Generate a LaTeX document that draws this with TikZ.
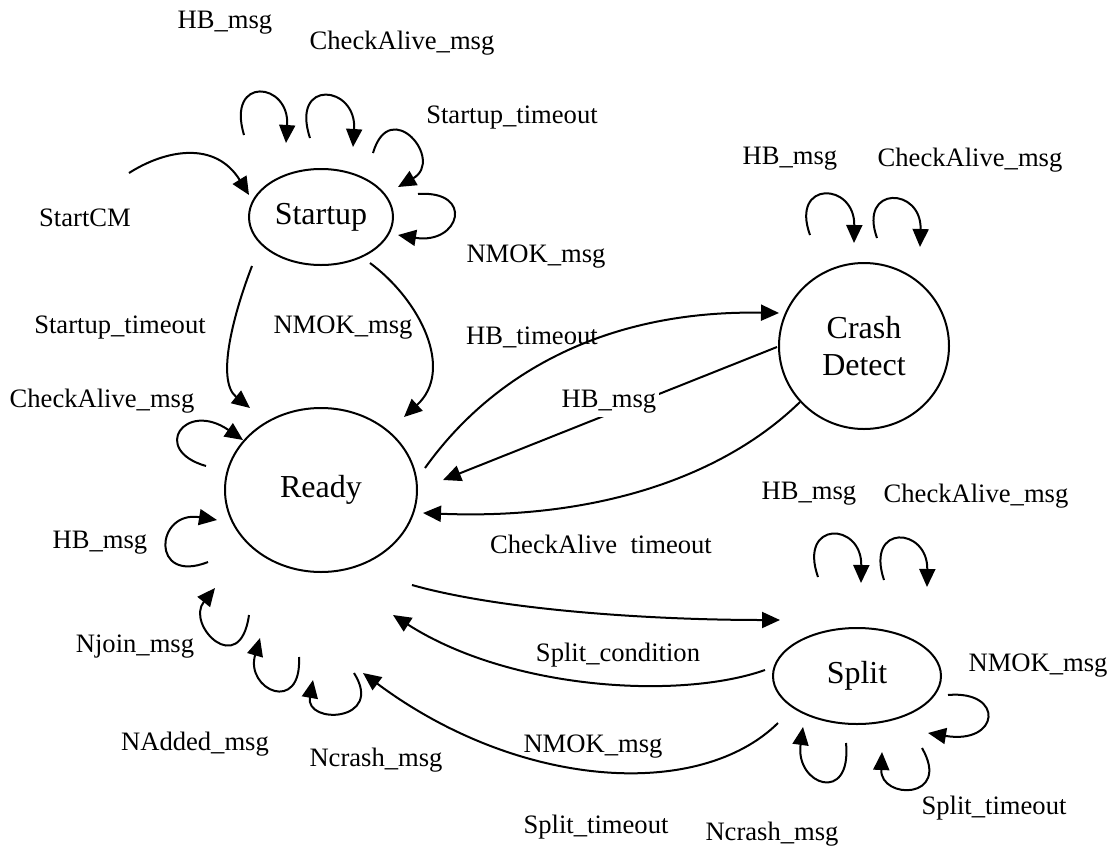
\documentclass[tikz,border=0pt]{standalone}
\usepackage{fontspec}
\setmainfont{Liberation Serif}
\usetikzlibrary{arrows.meta,shapes.geometric,calc}

\begin{document}
\begin{tikzpicture}[x=0.5pt, y=-0.5pt, state/.style={ellipse,draw,line width=1pt,inner sep=0pt,align=center,font=\fontsize{16}{18.5}\selectfont}, lbl/.style={inner sep=0pt,font=\fontsize{13.3}{16}\selectfont}, arr/.style={line width=1pt,-{Triangle[length=9pt,width=8pt]}}]
\useasboundingbox (0,0) rectangle (1115,847);
% states
\node[state,minimum width=72pt,minimum height=48pt] (st) at (321,217) {Startup};
\node[state,minimum width=96pt,minimum height=82pt] (rd) at (321,490) {Ready};
\node[state,minimum width=85pt,minimum height=83pt] (cr) at (864,346) {Crash\\Detect};
\node[state,minimum width=84pt,minimum height=48pt] (sp) at (857,676) {Split};
% entry
\coordinate (go) at (129,173);
\draw[arr] (go) .. controls (165,150) and (215,140) .. ($(st)+(-72,-22)$);
\node[lbl] (l-go) at (85,218) {StartCM};
% Startup self loops
\draw[arr] ($(st)+(-77,-82)$) .. controls (226,75) and (290,82) .. ($(st)+(-35,-74)$);
\draw[arr] ($(st)+(-11,-79)$) .. controls (290,78) and (357,85) .. ($(st)+(32,-70)$);
\draw[arr] ($(st)+(52,-64)$) .. controls (390,95) and (445,160) .. ($(st)+(77,-30)$);
\draw[arr] ($(st)+(97,-23)$) .. controls (475,190) and (460,245) .. ($(st)+(77,18)$);
\node[lbl] (l-st1) at (225,23) {HB\_msg};
\node[lbl] (l-st2) at (402,43) {CheckAlive\_msg};
\node[lbl] (l-st3) at (512,118) {Startup\_timeout};
\node[lbl] (l-st4) at (536,257) {NMOK\_msg};
% Startup -> Ready
\draw[arr] ($(st)+(-69,49)$) .. controls (235,310) and (215,380) .. ($(rd)+(-71,-82)$);
\draw[arr] ($(st)+(49,46)$) .. controls (420,300) and (455,370) .. ($(rd)+(83,-73)$);
\node[lbl] (l-sr1) at (120,328) {Startup\_timeout};
\node[lbl] (l-sr2) at (343,328) {NMOK\_msg};
% Ready self loops
\draw[arr] ($(rd)+(-115,-24)$) .. controls (150,450) and (185,400) .. ($(rd)+(-78,-50)$);
\draw[arr] ($(rd)+(-113,72)$) .. controls (150,585) and (155,510) .. ($(rd)+(-104,30)$);
\draw[arr] ($(rd)+(-72,125)$) .. controls (240,680) and (185,625) .. ($(rd)+(-106,98)$);
\draw[arr] ($(rd)+(-22,167)$) .. controls (302,715) and (245,690) .. ($(rd)+(-61,148)$);
\draw[arr] ($(rd)+(33,183)$) .. controls (385,722) and (305,725) .. ($(rd)+(-8,190)$);
\node[lbl] (l-rd1) at (102,401) {CheckAlive\_msg};
\node[lbl] (l-rd2) at (100,543) {HB\_msg};
\node[lbl] (l-rd3) at (135,647) {Njoin\_msg};
\node[lbl] (l-rd4) at (195,744) {NAdded\_msg};
\node[lbl] (l-rd5) at (376,760) {Ncrash\_msg};
% Ready <-> Crash Detect
\draw[arr] ($(rd)+(104,-22)$) .. controls (495,370) and (610,310) .. ($(cr)+(-85,-33)$);
\draw[arr] ($(cr)+(-87,1)$) -- ($(rd)+(122,-10)$);
\draw[arr] ($(cr)+(-64,56)$) .. controls (720,480) and (590,520) .. ($(rd)+(102,23)$);
\node[lbl] (l-rc1) at (532,337) {HB\_timeout};
\node[lbl,fill=white,inner sep=1.5pt] (l-rc2) at (609,402) {HB\_msg};
\node[lbl] (l-rc3) at (601,544) {CheckAlive\hspace{0.5em}timeout};
% Crash Detect self loops
\draw[arr] ($(cr)+(-54,-111)$) .. controls (790,180) and (855,182) .. ($(cr)+(-10,-103)$);
\draw[arr] ($(cr)+(13,-108)$) .. controls (858,185) and (922,187) .. ($(cr)+(56,-99)$);
\node[lbl] (l-cr1) at (790,159) {HB\_msg};
\node[lbl] (l-cr2) at (970,160) {CheckAlive\_msg};
% Ready <-> Split
\draw[arr] ($(rd)+(91,95)$) .. controls (500,610) and (650,620) .. ($(sp)+(-77,-56)$);
\draw[arr] ($(sp)+(-92,-6)$) .. controls (680,700) and (510,690) .. ($(rd)+(72,125)$);
\draw[arr] ($(sp)+(-79,47)$) .. controls (700,800) and (520,790) .. ($(rd)+(42,183)$);
\node[lbl] (l-rs1) at (618,655) {Split\_condition};
\node[lbl] (l-rs2) at (593,747) {NMOK\_msg};
\node[lbl] (l-rs3) at (596,827) {Split\_timeout};
% Split self loops
\draw[arr] ($(sp)+(-39,-99)$) .. controls (798,520) and (862,522) .. ($(sp)+(4,-93)$);
\draw[arr] ($(sp)+(27,-96)$) .. controls (865,523) and (928,527) .. ($(sp)+(70,-89)$);
\draw[arr] ($(sp)+(91,19)$) .. controls (1005,690) and (1000,745) .. ($(sp)+(71,57)$);
\draw[arr] ($(sp)+(-11,67)$) .. controls (852,805) and (795,785) .. ($(sp)+(-54,51)$);
\draw[arr] ($(sp)+(65,72)$) .. controls (952,800) and (880,800) .. ($(sp)+(25,76)$);
\node[lbl] (l-sp1) at (809,494) {HB\_msg};
\node[lbl] (l-sp2) at (976,496) {CheckAlive\_msg};
\node[lbl] (l-sp3) at (1038,666) {NMOK\_msg};
\node[lbl] (l-sp4) at (772,834) {Ncrash\_msg};
\node[lbl] (l-sp5) at (994,808) {Split\_timeout};
\end{tikzpicture}
\end{document}
